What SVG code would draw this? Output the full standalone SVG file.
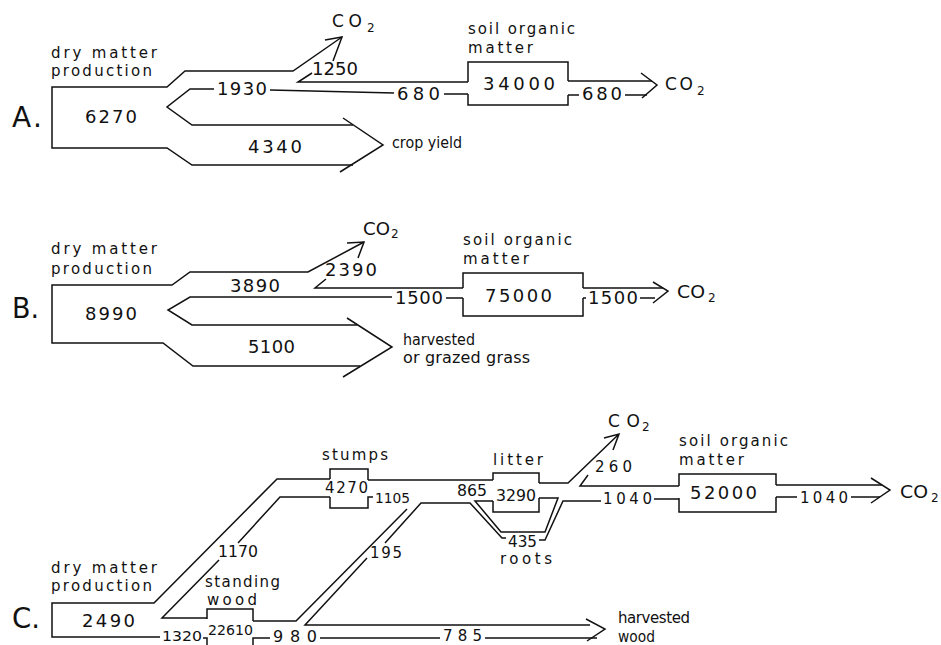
<svg xmlns="http://www.w3.org/2000/svg" width="941" height="645" viewBox="0 0 941 645">
<style>
.ln{fill:none;stroke:#111;stroke-width:1.5;stroke-linejoin:miter;stroke-linecap:butt}
text{font-family:"DejaVu Sans","Liberation Sans",Arial,sans-serif;fill:#111}
.lab{font-size:15px}
.lab2{font-size:16px}
.n{font-size:18px}
.ns{font-size:15px}
.nx{font-size:14px}
.big{font-size:28px}
.co{font-size:17px}
.sub{font-size:12px}
</style>
<rect width="941" height="645" fill="#fff"/>

<!-- ===== A ===== -->
<g id="a-source">
<text class="big" x="12" y="127" textLength="30" lengthAdjust="spacing">A.</text>
<text class="lab" x="51" y="58" textLength="106" lengthAdjust="spacing">dry matter</text>
<text class="lab" x="51" y="76" textLength="101" lengthAdjust="spacing">production</text>
<text class="n" x="85" y="123" textLength="52" lengthAdjust="spacing">6270</text>
</g>
<g id="a-soil">
<text class="lab" x="468" y="34" textLength="107" lengthAdjust="spacing">soil organic</text>
<text class="lab" x="468" y="53" textLength="65" lengthAdjust="spacing">matter</text>
<path class="ln" d="M468,82 V62 H568 V81 M468,94 V105 H568 V95"/>
<text class="n" x="483" y="90" textLength="72" lengthAdjust="spacing">34000</text>
</g>
<g id="a-co2-resp">
<text class="co" x="332" y="27" textLength="30" lengthAdjust="spacing">CO</text>
<text class="sub" x="367" y="32">2</text>
</g>
<g id="a-co2-out">
<text class="co" x="665" y="90" textLength="28" lengthAdjust="spacing">CO</text>
<text class="sub" x="697" y="95">2</text>
</g>
<g id="a-crop">
<text class="lab2" x="392" y="148" textLength="70" lengthAdjust="spacingAndGlyphs">crop yield</text>
</g>

<!-- ===== B ===== -->
<g id="b-source">
<text class="big" x="12" y="318" textLength="27" lengthAdjust="spacingAndGlyphs">B.</text>
<text class="lab" x="51" y="254" textLength="106" lengthAdjust="spacing">dry matter</text>
<text class="lab" x="51" y="274" textLength="101" lengthAdjust="spacing">production</text>
<text class="n" x="85" y="320" textLength="52" lengthAdjust="spacing">8990</text>
</g>
<g id="b-soil">
<text class="lab" x="463" y="245" textLength="109" lengthAdjust="spacing">soil organic</text>
<text class="lab" x="463" y="264" textLength="66" lengthAdjust="spacing">matter</text>
<path class="ln" d="M463,288 V273 H583 V288 M463,298 V316 H583 V298"/>
<text class="n" x="485" y="302" textLength="67" lengthAdjust="spacing">75000</text>
</g>
<g id="b-co2-resp">
<text class="co" x="363" y="235" textLength="27" lengthAdjust="spacingAndGlyphs">CO</text>
<text class="sub" x="391" y="238">2</text>
</g>
<g id="b-co2-out">
<text class="co" x="677" y="298" textLength="28" lengthAdjust="spacingAndGlyphs">CO</text>
<text class="sub" x="708" y="302">2</text>
</g>
<g id="b-harvest">
<text class="lab2" x="403" y="345" textLength="72" lengthAdjust="spacingAndGlyphs">harvested</text>
<text class="lab2" x="403" y="363" textLength="127" lengthAdjust="spacing">or grazed grass</text>
</g>

<!-- ===== C ===== -->
<g id="c-source">
<text class="big" x="12" y="628" textLength="28" lengthAdjust="spacingAndGlyphs">C.</text>
<text class="lab" x="51" y="573" textLength="106" lengthAdjust="spacing">dry matter</text>
<text class="lab" x="51" y="591" textLength="101" lengthAdjust="spacing">production</text>
<text class="n" x="82" y="627" textLength="53" lengthAdjust="spacing">2490</text>
</g>
<g id="c-standing-wood">
<text class="lab" x="205" y="587" textLength="75" lengthAdjust="spacing">standing</text>
<text class="lab" x="207" y="605" textLength="50" lengthAdjust="spacing">wood</text>
<path class="ln" d="M207,619 V609 H253 V621 M203,638 H207 V646 M253,646 V638 H270"/>
<text class="nx" x="208" y="635" textLength="45" lengthAdjust="spacingAndGlyphs">22610</text>
</g>
<g id="c-stumps">
<text class="lab" x="322" y="460" textLength="66" lengthAdjust="spacing">stumps</text>
<path class="ln" d="M330,479 V469 H368 V480 M330,497 V508 H368 V497 H373"/>
<text class="ns" x="325" y="493" textLength="43" lengthAdjust="spacing">4270</text>
</g>
<g id="c-litter">
<text class="lab" x="493" y="465" textLength="50" lengthAdjust="spacing">litter</text>
<path class="ln" d="M493,480 V473 H539 V483 M493,501 V512 H539 V498"/>
<text class="ns" x="496" y="501" textLength="40" lengthAdjust="spacingAndGlyphs">3290</text>
</g>
<g id="c-roots">
<text class="lab" x="500" y="564" textLength="52" lengthAdjust="spacing">roots</text>
</g>
<g id="c-soil">
<text class="lab" x="679" y="446" textLength="109" lengthAdjust="spacing">soil organic</text>
<text class="lab" x="679" y="465" textLength="65" lengthAdjust="spacing">matter</text>
<path class="ln" d="M679,486 V474 H776 V485 M679,498 V512 H776 V497"/>
<text class="n" x="690" y="499" textLength="67" lengthAdjust="spacing">52000</text>
</g>
<g id="c-co2-resp">
<text class="co" x="608" y="427" textLength="32" lengthAdjust="spacing">CO</text>
<text class="sub" x="642" y="431">2</text>
</g>
<g id="c-co2-out">
<text class="co" x="900" y="498" textLength="28" lengthAdjust="spacingAndGlyphs">CO</text>
<text class="sub" x="931" y="502">2</text>
</g>
<g id="c-harvest">
<text class="lab" x="618" y="623" textLength="72" lengthAdjust="spacing">harvested</text>
<text class="lab" x="618" y="642" textLength="37" lengthAdjust="spacingAndGlyphs">wood</text>
</g>

<!-- ===== connectors (flow bands) ===== -->
<g id="connectors">
<!-- A -->
<path class="ln" d="M342,37 L293,71 H185 L167,87 H52 V148 H167 L192,165 H353"/>
<path class="ln" d="M325,40 L342,37 L333,61"/>
<path class="ln" d="M312,73 L298,82 H468"/>
<path class="ln" d="M214,89 H190 L167,107 L192,125 H353"/>
<path class="ln" d="M270,90 L394,93 M444,94 H468"/>
<path class="ln" d="M343,118 L383,145 L340,172"/>
<path class="ln" d="M568,81 H652 M568,95 H579 M625,95 H647"/>
<path class="ln" d="M641,73 L657,85 L642,98"/>
<!-- B -->
<path class="ln" d="M364,242 L308,272 H190 L172,285 H52 V343 H163 L193,366 H360"/>
<path class="ln" d="M347,243 L364,242 L358,258"/>
<path class="ln" d="M326,279 L315,288 H463"/>
<path class="ln" d="M392,297 H190 L168,310 L192,325 H357"/>
<path class="ln" d="M446,298 H463"/>
<path class="ln" d="M347,318 L392,347 L343,377"/>
<path class="ln" d="M583,288 H663 M583,298 H586 M640,298 H655"/>
<path class="ln" d="M653,282 L668,291 L653,303"/>
<!-- C -->
<path class="ln" d="M330,479 H277 L154,603 H52 V637 H160"/>
<path class="ln" d="M330,497 H280 L238,543 M219,560 L162,618 H207"/>
<path class="ln" d="M368,480 H493"/>
<path class="ln" d="M539,483 H568 L619,434 M604,438 L619,434 L613,450"/>
<path class="ln" d="M588,475 L580,486 H679"/>
<path class="ln" d="M776,485 H882 M776,497 H797 M851,497 H880"/>
<path class="ln" d="M871,478 L890,490 L871,503"/>
<path class="ln" d="M253,621 H296 L407,509"/>
<path class="ln" d="M590,625 H305 L367,558 M385,543 L421,503 H470 L502,538 H506 M539,540 H545 L563,501 H601 M654,499 H679"/>
<path class="ln" d="M493,501 H475 L501,532 H545 L558,498 H539"/>
<path class="ln" d="M320,638 H440 M485,638 H597"/>
<path class="ln" d="M586,619 L605,629 L587,641"/>
</g>

<!-- flow labels -->
<g id="flow-labels">
<text class="n" x="217" y="95" textLength="50" lengthAdjust="spacing">1930</text>
<text class="n" x="312" y="75" textLength="46" lengthAdjust="spacingAndGlyphs">1250</text>
<text class="n" x="397" y="100" textLength="43" lengthAdjust="spacing">680</text>
<text class="n" x="582" y="100" textLength="40" lengthAdjust="spacing">680</text>
<text class="n" x="248" y="153" textLength="54" lengthAdjust="spacing">4340</text>
<text class="n" x="230" y="292" textLength="50" lengthAdjust="spacing">3890</text>
<text class="n" x="325" y="276" textLength="52" lengthAdjust="spacing">2390</text>
<text class="n" x="395" y="304" textLength="48" lengthAdjust="spacing">1500</text>
<text class="n" x="588" y="304" textLength="50" lengthAdjust="spacing">1500</text>
<text class="n" x="248" y="353" textLength="47" lengthAdjust="spacing">5100</text>
<text class="ns" x="218" y="557" textLength="40" lengthAdjust="spacingAndGlyphs">1170</text>
<text class="nx" x="375" y="503" textLength="35" lengthAdjust="spacingAndGlyphs">1105</text>
<text class="ns" x="370" y="558" textLength="32" lengthAdjust="spacing">195</text>
<text class="ns" x="457" y="496" textLength="30" lengthAdjust="spacingAndGlyphs">865</text>
<text class="ns" x="508" y="547" textLength="29" lengthAdjust="spacingAndGlyphs">435</text>
<text class="ns" x="595" y="472" textLength="37" lengthAdjust="spacing">260</text>
<text class="ns" x="603" y="504" textLength="49" lengthAdjust="spacing">1040</text>
<text class="ns" x="800" y="503" textLength="48" lengthAdjust="spacing">1040</text>
<text class="nx" x="162" y="641" textLength="40" lengthAdjust="spacingAndGlyphs">1320</text>
<text class="ns" x="273" y="642" textLength="44" lengthAdjust="spacing" style="font-size:16px">980</text>
<text class="ns" x="443" y="641" textLength="39" lengthAdjust="spacing">785</text>
</g>
</svg>
